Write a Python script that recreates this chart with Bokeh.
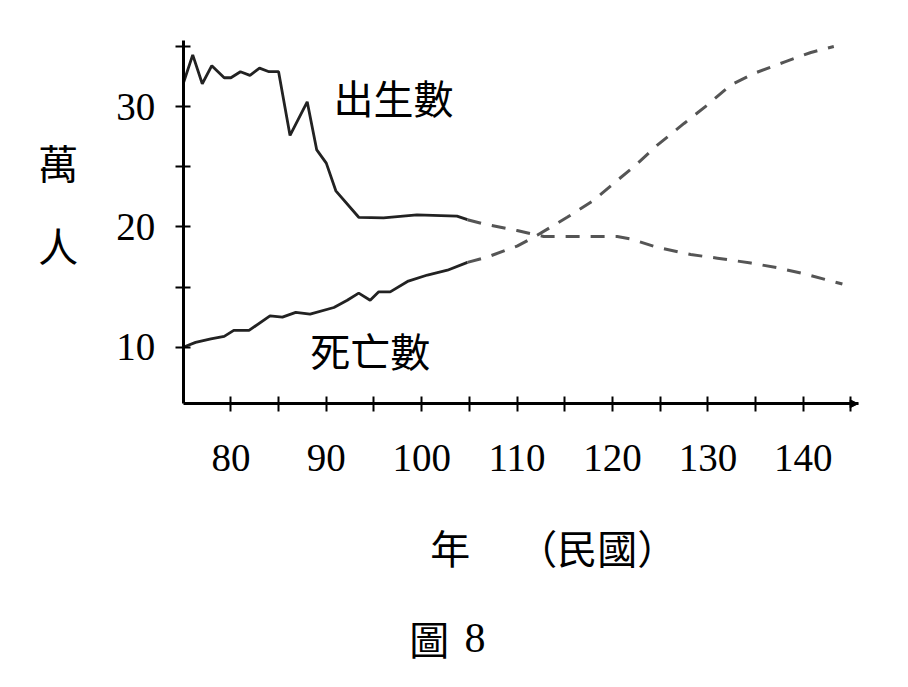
from bokeh.plotting import figure
from bokeh.models import Label, FixedTicker, Arrow, NormalHead
from bokeh.embed import file_html
from bokeh.resources import INLINE

# 出生數 (萬人), solid part
birth_years = [75, 76, 77, 78, 79.3, 80, 81, 82, 83, 84, 85, 86.2, 88, 89, 90, 91,
               93.4, 96, 99.5, 103.7, 104.8]
birth_vals = [31.9, 34.3, 31.9, 33.4, 32.4, 32.4, 32.9, 32.6, 33.2, 32.9, 32.9, 27.6,
              30.4, 26.4, 25.3, 23.0, 20.8, 20.75, 21.0, 20.9, 20.6]

# 出生數 projection (dashed)
birth_proj_years = [104.8, 106.5, 110, 112.8, 117, 120.5, 121.9, 124.7, 128.2, 131,
                    134.5, 137.3, 140.1, 144.1]
birth_proj_vals = [20.6, 20.25, 19.7, 19.2, 19.2, 19.2, 19.0, 18.3, 17.7, 17.4,
                   17.0, 16.6, 16.1, 15.25]

# 死亡數 (萬人), solid part
death_years = [75, 76.3, 77.9, 79.3, 80.3, 81.9, 84.1, 85.4, 86.8, 88.3, 90.8, 92.2,
               93.4, 94.6, 95.5, 96.7, 98.6, 100.6, 102.7, 104.8]
death_vals = [10.0, 10.4, 10.7, 10.9, 11.4, 11.4, 12.6, 12.5, 12.9, 12.75, 13.3, 13.9,
              14.5, 13.9, 14.6, 14.6, 15.5, 16.0, 16.4, 17.05]

# 死亡數 projection (dashed)
death_proj_years = [104.8, 106.9, 110, 112.1, 115.25, 118, 120.1, 122.6, 124.7, 127.5,
                    129.9, 132.4, 134.8, 138, 140.8, 143.2]
death_proj_vals = [17.05, 17.5, 18.4, 19.3, 20.8, 22.2, 23.6, 25.25, 26.8, 28.6,
                   30.1, 31.8, 32.75, 33.7, 34.5, 35.0]

x_ticks = [80, 85, 90, 95, 100, 105, 110, 115, 120, 125, 130, 135, 140, 145]
x_tick_labels = ["80", "", "90", "", "100", "", "110", "", "120", "", "130", "", "140", ""]
y_ticks = [10, 15, 20, 25, 30, 35]
y_tick_labels = ["10", "", "20", "", "30", ""]

X_AXIS = (75, 145.75)   # drawn extent of the x axis
Y_AXIS = (5.3, 35.5)    # drawn extent of the y axis

SERIF = "Liberation Serif"
CJK = "Noto Sans CJK TC"
SOLID = "#222222"
DASHED = "#555555"

# the frame fills the whole canvas so that the side texts are not clipped;
# the axes are pinned inside it with fixed_location
p = figure(width=906, height=685, x_range=(55.85, 150.82), y_range=(-18.12, 38.82),
           output_backend="svg", toolbar_location=None, tools="", title=None,
           min_border=0)
p.outline_line_color = None
p.grid.visible = False

p.line(birth_years, birth_vals, line_color=SOLID, line_width=2.8)
p.line(death_years, death_vals, line_color=SOLID, line_width=2.8)
p.line(birth_proj_years, birth_proj_vals, line_color=DASHED, line_width=3,
       line_dash="14 11")
p.line(death_proj_years, death_proj_vals, line_color=DASHED, line_width=3,
       line_dash="14 11")

for ax in (p.xaxis[0], p.yaxis[0]):
    ax.axis_line_width = 3
    ax.axis_line_color = "black"
    ax.major_tick_line_width = 2
    ax.major_tick_line_color = "black"
    ax.major_tick_in = 7
    ax.major_tick_out = 8
    ax.minor_tick_line_color = None
    ax.major_label_text_font = SERIF
    ax.major_label_text_font_size = "39px"
    ax.major_label_text_color = "black"

p.xaxis.fixed_location = Y_AXIS[0]
p.xaxis.bounds = X_AXIS
p.xaxis.ticker = FixedTicker(ticks=x_ticks)
p.xaxis.major_label_overrides = dict(zip(x_ticks, x_tick_labels))
p.xaxis.major_label_standoff = 33

p.yaxis.fixed_location = X_AXIS[0]
p.yaxis.bounds = Y_AXIS
p.yaxis.ticker = FixedTicker(ticks=y_ticks)
p.yaxis.major_label_overrides = dict(zip(y_ticks, y_tick_labels))
p.yaxis.major_label_standoff = 20

p.add_layout(Arrow(end=NormalHead(size=8, fill_color="black", line_color="black"),
                   x_start=X_AXIS[1] - 0.8, y_start=Y_AXIS[0],
                   x_end=X_AXIS[1], y_end=Y_AXIS[0],
                   line_color="black", line_width=2))


def add_text(x, y, text, font=CJK, size="40px", align="center"):
    p.add_layout(Label(x=x, y=y, text=text, text_font=font, text_font_size=size,
                       text_align=align, text_baseline="middle", text_color="black"))


add_text(97.05, 30.8, "出生數")
add_text(94.6, 9.77, "死亡數")
add_text(61.9, 25.4, "萬")
add_text(61.9, 18.5, "人")
add_text(103.0, -6.6, "年")
add_text(118.4, -6.6, "（民國）")
add_text(100.8, -14.2, "圖")
add_text(105.6, -14.2, "8", font=SERIF, size="42px")

open("out.html", "w").write(file_html(p, INLINE))
